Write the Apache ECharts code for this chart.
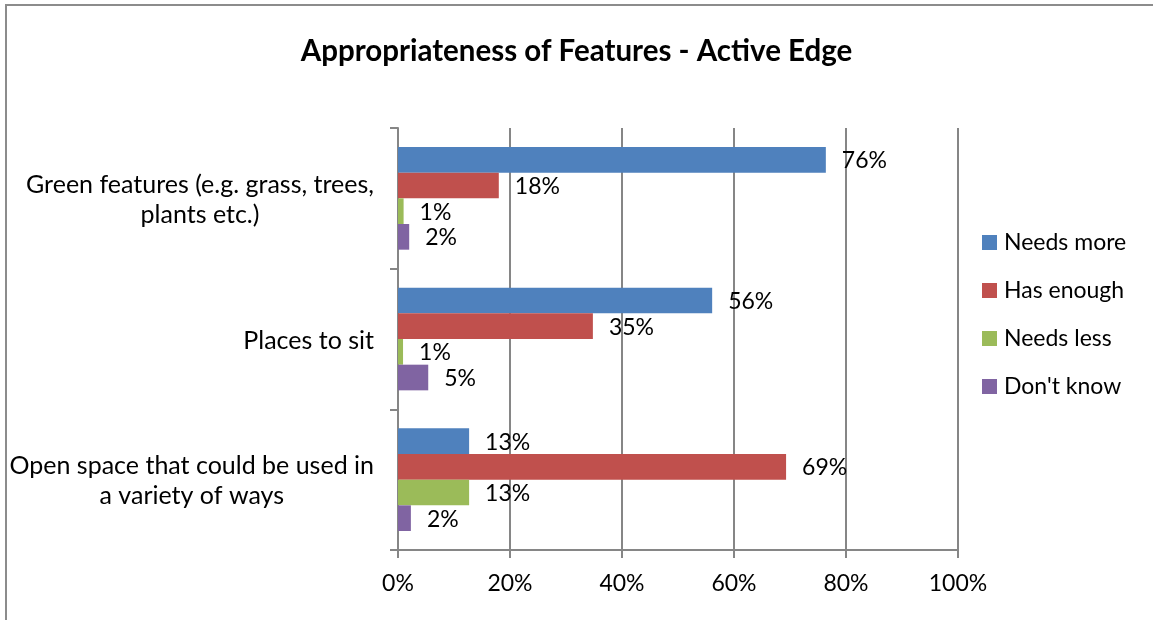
<!DOCTYPE html>
<html style="height: 100%">
<head>
    <meta charset="utf-8">
    <title>Appropriateness of Features - Active Edge</title>
    <script src="https://cdn.jsdelivr.net/npm/echarts@6/dist/echarts.min.js"></script>
</head>
<body style="height: 100%; margin: 0; background: #fff">
    <div id="main" style="width: 1153px; height: 620px"></div>
    <script type="text/javascript">
        // categories, top to bottom
        var categories = [
            'Green features (e.g. grass, trees,\nplants etc.)',
            'Places to sit',
            'Open space that could be used in\na variety of ways'
        ];
        var seriesNames = ['Needs more', 'Has enough', 'Needs less', "Don't know"];

        // percentages
        var needsMore = [76.4, 56.1, 12.7];
        var hasEnough = [18.0, 34.8, 69.3];
        var needsLess = [1.0, 0.9, 12.7];
        var dontKnow = [2.0, 5.4, 2.3];

        var xTicks = [0, 20, 40, 60, 80, 100];

        var colors = ['#4F81BD', '#C0504D', '#9BBB59', '#8064A2'];
        var font = 'Lato, "Open Sans", sans-serif';
        var gray = '#868686';

        var myChart = echarts.init(document.getElementById('main'));

        function barSeries(name, values, color) {
            return {
                name: name,
                type: 'bar',
                data: values,
                barGap: '0%',
                barCategoryGap: '27%',
                itemStyle: { color: color },
                label: {
                    show: true,
                    position: 'right',
                    distance: 16,
                    offset: [0, 1],
                    color: '#000',
                    fontFamily: font,
                    fontSize: 23,
                    formatter: function (p) { return Math.round(p.value) + '%'; }
                }
            };
        }

        var option = {
            animation: false,
            color: colors,
            title: {
                text: 'Appropriateness of Features - Active Edge',
                left: 'center',
                top: 31,
                textStyle: { fontFamily: font, fontSize: 29.5, fontWeight: 'bold', color: '#000' }
            },
            legend: {
                orient: 'vertical',
                left: 977,
                top: 226,
                itemWidth: 15,
                itemHeight: 15,
                itemGap: 25,
                icon: 'rect',
                textStyle: { fontFamily: font, fontSize: 23, color: '#000', padding: [0, 0, 0, 2] },
                data: seriesNames
            },
            grid: { left: 398, right: 195, top: 128, bottom: 70 },
            xAxis: {
                type: 'value',
                min: xTicks[0],
                max: xTicks[xTicks.length - 1],
                interval: 20,
                axisLine: { show: true, lineStyle: { color: gray, width: 2 } },
                axisTick: { show: true, length: 8, lineStyle: { color: gray, width: 2 } },
                axisLabel: {
                    margin: 22,
                    color: '#000',
                    fontFamily: font,
                    fontSize: 23,
                    formatter: '{value}%'
                },
                splitLine: { show: true, lineStyle: { color: gray, width: 2 } }
            },
            yAxis: {
                type: 'category',
                inverse: true,
                data: categories,
                axisLine: { show: true, lineStyle: { color: gray, width: 2 } },
                axisTick: { show: true, length: 8, lineStyle: { color: gray, width: 2 } },
                axisLabel: {
                    margin: 24,
                    color: '#000',
                    fontFamily: font,
                    fontSize: 25,
                    lineHeight: 30,
                    formatter: function (v) {
                        return v.split('\n').map(function (s) { return '{c|' + s + '}'; }).join('\n');
                    },
                    rich: {
                        c: { align: 'center', fontFamily: font, fontSize: 25, lineHeight: 30, color: '#000', padding: [3, 0, 0, 0] }
                    }
                }
            },
            graphic: [{
                type: 'rect',
                shape: { x: 6, y: 5, width: 1300, height: 800 },
                style: { fill: 'none', stroke: '#8c8c8c', lineWidth: 2 },
                silent: true
            }],
            series: [
                barSeries(seriesNames[0], needsMore, colors[0]),
                barSeries(seriesNames[1], hasEnough, colors[1]),
                barSeries(seriesNames[2], needsLess, colors[2]),
                barSeries(seriesNames[3], dontKnow, colors[3])
            ]
        };

        myChart.setOption(option);
    </script>
</body>
</html>
